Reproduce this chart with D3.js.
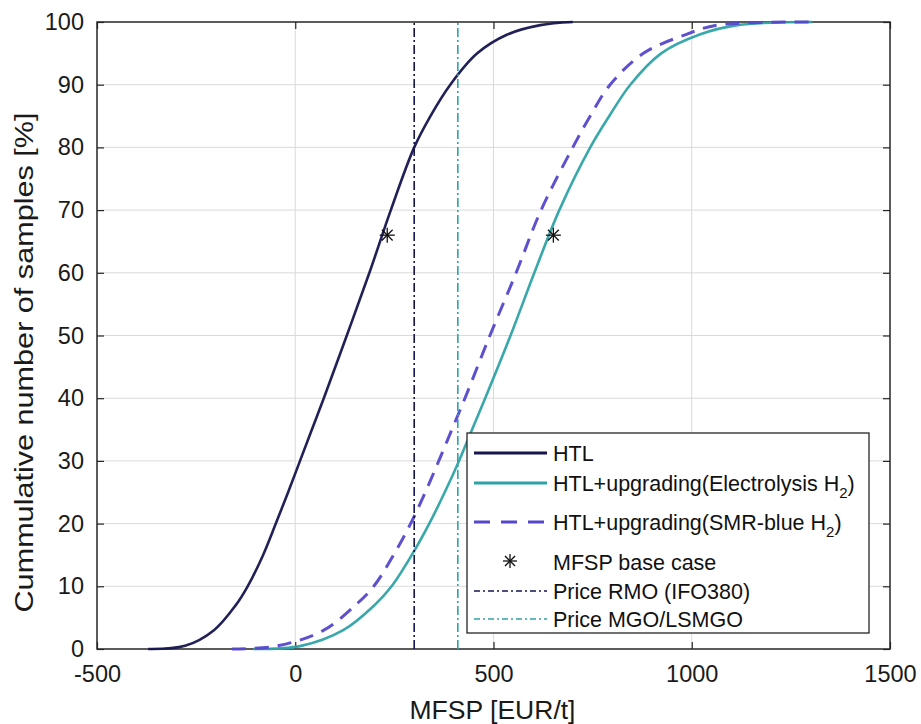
<!DOCTYPE html>
<html><head><meta charset="utf-8">
<script src="https://cdn.jsdelivr.net/npm/d3@7"></script>
<style>body{margin:0;background:#fff;} svg{display:block;font-family:"Liberation Sans",Arial,sans-serif;}</style>
</head><body>
<script>
// cumulative percentage levels
const pct  = [0, 0.5, 3, 7, 10, 15, 20, 25, 30, 35, 40, 50, 60, 70, 80, 85, 90, 95, 98, 99.5, 100];
// MFSP [EUR/t] at each level
const htl  = [-371, -278, -205, -150, -120, -81, -49, -18, 12, 42, 72, 130, 187, 241, 300, 341, 391, 459, 535, 618, 700];
const elec = [-106, 15, 121, 200, 243, 294, 338, 377, 413, 446, 479, 543, 603, 666, 744, 792, 845, 923, 1020, 1115, 1304];
const smr  = [-160, -45, 72, 152, 198, 248, 291, 328, 362, 395, 428, 491, 557, 620, 700, 744, 794, 878, 985, 1064, 1304];
const baseCase = [{x: 232, y: 66}, {x: 651, y: 66}];
const priceRMO = 300, priceMGO = 410;
const xTicks = [-500, 0, 500, 1000, 1500];
const yTicks = [0, 10, 20, 30, 40, 50, 60, 70, 80, 90, 100];
const legendLabels = ["HTL", "HTL+upgrading(Electrolysis H", "HTL+upgrading(SMR-blue H", "MFSP base case", "Price RMO (IFO380)", "Price MGO/LSMGO"];

const W = 921, H = 724;
const m = {l: 97, r: 31, t: 22, b: 75};
const svg = d3.select("body").append("svg").attr("width", W).attr("height", H);
const x = d3.scaleLinear().domain([-500, 1500]).range([m.l, W - m.r]);
const y = d3.scaleLinear().domain([0, 100]).range([H - m.b, m.t]);

const cHTL = "#15154f", cEl = "#2ea3a6", cSMR = "#5548cc", cAxis = "#262626";

// grid
svg.append("g").selectAll("line").data(xTicks.slice(1, -1)).join("line")
  .attr("x1", d => x(d)).attr("x2", d => x(d)).attr("y1", y(0)).attr("y2", y(100))
  .attr("stroke", "#dadada").attr("stroke-width", 1);
svg.append("g").selectAll("line").data(yTicks.slice(1, -1)).join("line")
  .attr("y1", d => y(d)).attr("y2", d => y(d)).attr("x1", x(-500)).attr("x2", x(1500))
  .attr("stroke", "#dadada").attr("stroke-width", 1);

// axes (ticks inward)
const fmt = d => String(d).replace("\u2212", "-");
const ax = (g) => g.call(s => s.select(".domain").remove()).selectAll("line").attr("stroke", cAxis).attr("stroke-width", 1.2);
svg.append("g").attr("transform", `translate(0,${y(0)})`).call(d3.axisBottom(x).tickValues(xTicks).tickFormat(fmt).tickSizeInner(-7).tickSizeOuter(0).tickPadding(16)).call(ax)
  .selectAll("text").attr("font-size", 23.5).attr("fill", "#1a1a1a").attr("font-family", "Liberation Sans, Arial");
svg.append("g").attr("transform", `translate(0,${y(100)})`).call(d3.axisTop(x).tickValues(xTicks).tickSizeInner(-7).tickSizeOuter(0).tickFormat("")).call(ax);
svg.append("g").attr("transform", `translate(${x(-500)},0)`).call(d3.axisLeft(y).tickValues(yTicks).tickFormat(fmt).tickSizeInner(-7).tickSizeOuter(0).tickPadding(13)).call(ax)
  .selectAll("text").attr("font-size", 23.5).attr("fill", "#1a1a1a").attr("font-family", "Liberation Sans, Arial");
svg.append("g").attr("transform", `translate(${x(1500)},0)`).call(d3.axisRight(y).tickValues(yTicks).tickSizeInner(-7).tickSizeOuter(0).tickFormat("")).call(ax);
svg.append("rect").attr("x", x(-500)).attr("y", y(100)).attr("width", x(1500) - x(-500)).attr("height", y(0) - y(100))
  .attr("fill", "none").attr("stroke", cAxis).attr("stroke-width", 1.5);

// curves
const line = d3.line().x(d => x(d[0])).y(d => y(d[1])).curve(d3.curveCatmullRom.alpha(0.5));
const series = [
  {vals: htl, c: cHTL, w: 2.6, dash: null},
  {vals: elec, c: cEl, w: 2.6, dash: null},
  {vals: smr, c: cSMR, w: 3, dash: "14,9"}
];
series.forEach(s => {
  svg.append("path").datum(s.vals.map((v, i) => [v, pct[i]]))
    .attr("d", line).attr("fill", "none").attr("stroke", s.c).attr("stroke-width", s.w)
    .attr("stroke-dasharray", s.dash).attr("opacity", 0.95);
});

// price lines
[[priceRMO, cHTL], [priceMGO, cEl]].forEach(([v, c]) => {
  svg.append("line").attr("x1", x(v)).attr("x2", x(v)).attr("y1", y(0)).attr("y2", y(100))
    .attr("stroke", c).attr("stroke-width", 1.6).attr("stroke-dasharray", "9,3,2,3");
});

// asterisk marker
function star(g, cx, cy, r) {
  const a = [[0, -r, 0, r], [-r, 0, r, 0], [-r * 0.72, -r * 0.72, r * 0.72, r * 0.72], [-r * 0.72, r * 0.72, r * 0.72, -r * 0.72]];
  a.forEach(l => g.append("line").attr("x1", cx + l[0]).attr("y1", cy + l[1]).attr("x2", cx + l[2]).attr("y2", cy + l[3])
    .attr("stroke", "#111").attr("stroke-width", 1.3));
}
baseCase.forEach(p => star(svg, x(p.x), y(p.y), 7.5));

// axis titles
svg.append("text").attr("x", (x(-500) + x(1500)) / 2 - 1).attr("y", 719).attr("text-anchor", "middle")
  .attr("font-size", 25).attr("fill", "#1a1a1a").attr("textLength", 166).attr("lengthAdjust", "spacingAndGlyphs").text("MFSP [EUR/t]");
svg.append("text").attr("transform", `translate(33,${(y(0) + y(100)) / 2 + 27}) rotate(-90)`).attr("text-anchor", "middle")
  .attr("font-size", 26).attr("fill", "#1a1a1a").attr("textLength", 500).attr("lengthAdjust", "spacingAndGlyphs").text("Cummulative number of samples [%]");

// legend
const lg = svg.append("g");
lg.append("rect").attr("x", 467).attr("y", 433).attr("width", 402).attr("height", 200)
  .attr("fill", "#fff").attr("stroke", cAxis).attr("stroke-width", 1.3);
const rows = [453, 483, 522, 562, 591, 619];
const lx1 = 474, lx2 = 547, tx = 553;
const styles = [
  {c: cHTL, w: 3, dash: null}, {c: cEl, w: 3, dash: null}, {c: cSMR, w: 3, dash: "16,11"},
  null, {c: cHTL, w: 1.4, dash: "6,3,2,3"}, {c: cEl, w: 1.4, dash: "6,3,2,3"}
];
legendLabels.forEach((lab, i) => {
  const yy = rows[i];
  const s = styles[i];
  if (s) lg.append("line").attr("x1", lx1).attr("x2", lx2).attr("y1", yy).attr("y2", yy)
    .attr("stroke", s.c).attr("stroke-width", s.w).attr("stroke-dasharray", s.dash);
  else star(lg, 510, yy - 1, 7);
  const t = lg.append("text").attr("x", tx).attr("y", yy + 7.5).attr("font-size", 21.5).attr("fill", "#111").text(lab);
  if (i === 1 || i === 2) {
    t.append("tspan").attr("font-size", 15).attr("dy", 7).text("2");
    t.append("tspan").attr("dy", -7).text(")");
  }
});
</script>
</body></html>
